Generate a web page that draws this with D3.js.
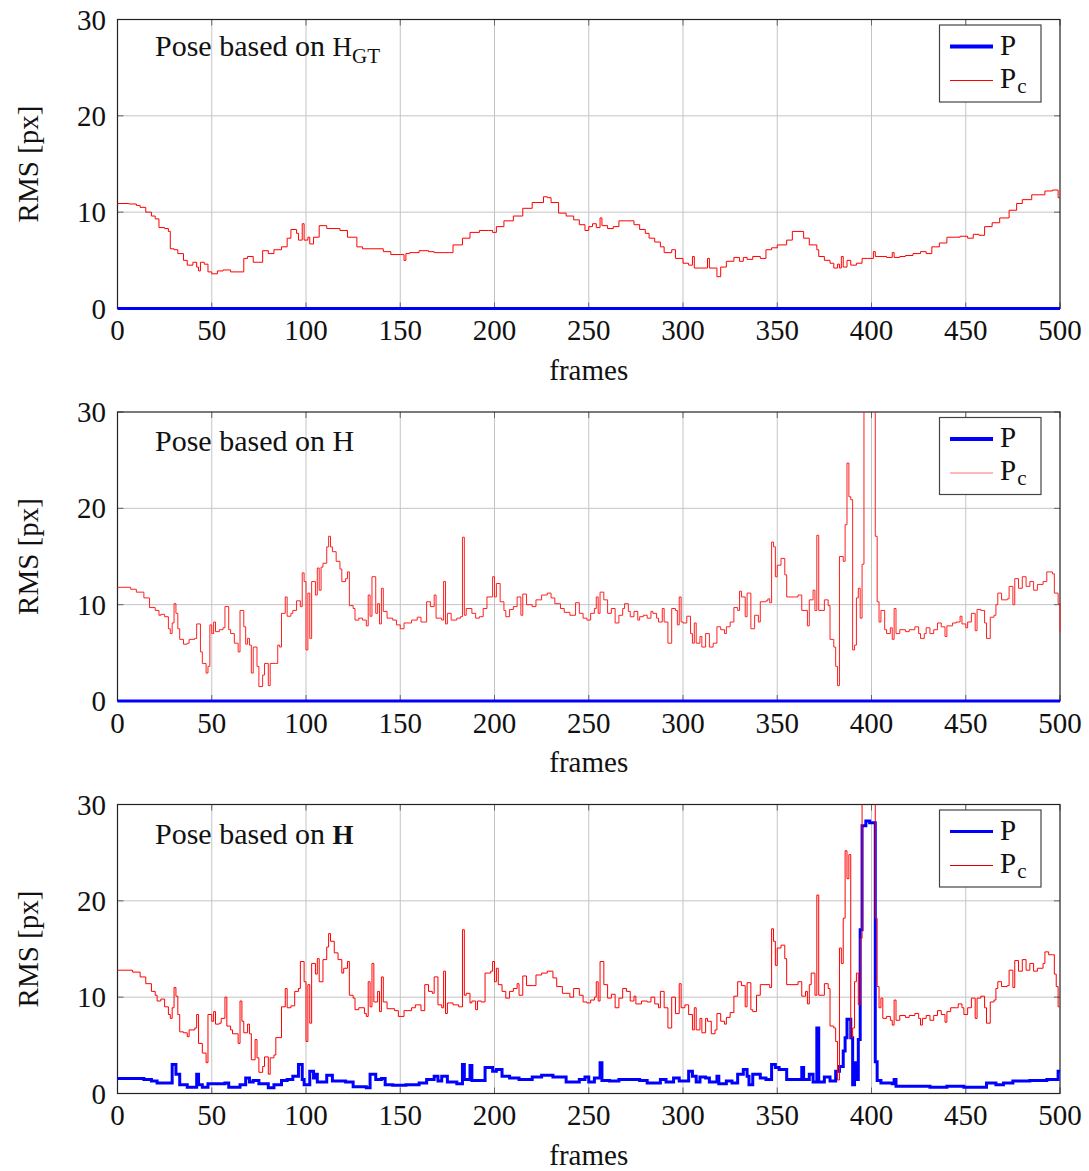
<!DOCTYPE html>
<html><head><meta charset="utf-8">
<script src="https://cdn.jsdelivr.net/npm/d3@7"></script>
<style>
html,body{margin:0;padding:0;background:#fff;}
svg{display:block;}
</style></head>
<body>
<script>
// ---------- DATA ----------
const frameTicks = [0,50,100,150,200,250,300,350,400,450,500];
const rmsTicks = [0,10,20,30];
const xLabel = "frames";
const yLabel = "RMS [px]";

// Panel 1: pose based on H_GT
const pGT = [[0,0],[500,0]];
const pcGT = [[0,10.9],[6,10.85],[10,10.7],[12,10.5],[15,10.0],[18,9.6],[20,9.3],[22,8.4],[25,8.3],[27,8.0],[28,6.2],[30,6.1],[32,5.7],[35,5.0],[37,4.5],[40,4.8],[42,4.3],[43,3.9],[44,4.8],[46,4.6],[48,3.8],[50,3.6],[53,3.9],[56,4.0],[60,3.8],[64,3.8],[67,5.2],[69,5.4],[72,4.8],[75,4.8],[77,6.0],[80,5.7],[83,6.1],[87,6.4],[90,7.3],[92,8.2],[95,7.8],[96,7.1],[98,8.8],[99,7.1],[101,7.4],[102,6.7],[104,7.4],[107,8.6],[111,8.3],[118,8.1],[122,7.4],[127,6.4],[130,6.2],[135,6.2],[141,5.9],[145,5.6],[150,5.6],[152,5.0],[153,5.7],[155,5.8],[160,6.0],[165,5.9],[168,5.8],[173,5.8],[176,5.8],[178,6.6],[183,7.3],[187,7.9],[192,8.1],[197,8.1],[199,7.9],[201,8.5],[205,9.1],[210,9.6],[215,10.4],[220,11.0],[226,11.6],[228,11.5],[230,11.0],[234,9.9],[238,9.6],[242,9.2],[245,8.7],[248,8.1],[250,8.5],[252,8.8],[254,8.4],[256,9.4],[257,8.6],[260,8.3],[263,8.5],[266,9.1],[270,9.1],[274,8.7],[277,8.2],[280,7.8],[282,7.3],[285,6.9],[288,6.4],[290,5.8],[294,6.1],[296,5.2],[300,4.7],[303,4.5],[305,5.4],[306,4.2],[310,4.2],[313,5.2],[314,4.2],[318,3.3],[320,4.3],[323,4.9],[327,5.3],[330,4.9],[332,5.3],[334,5.1],[337,5.4],[341,5.2],[344,6.1],[347,6.3],[350,6.6],[355,7.1],[358,8.0],[361,8.0],[364,7.3],[367,6.6],[371,6.1],[372,5.4],[375,5.0],[378,4.7],[380,4.2],[382,4.6],[383,4.2],[384,5.4],[385,4.3],[387,5.0],[389,4.5],[392,4.7],[395,5.2],[398,5.2],[401,5.9],[402,5.4],[408,5.3],[411,5.8],[412,5.3],[415,5.4],[418,5.5],[422,5.7],[426,5.9],[429,5.7],[432,6.4],[436,6.8],[440,7.4],[447,7.5],[451,7.3],[454,7.7],[457,7.6],[460,8.5],[464,8.9],[468,9.4],[473,10.2],[477,10.9],[480,11.3],[485,11.8],[492,12.2],[496,12.3],[499,11.5],[500,11.5]];

// Panel 2: pose based on H
const pH = [[0,0],[500,0]];
const pcH = [[0,11.8],[7,11.6],[10,11.3],[14,10.7],[17,9.7],[20,9.4],[22,8.9],[23,9.0],[25,8.75],[27,7.5],[28,7.0],[29,8.1],[30,10.1],[31,9.1],[32,7.5],[33,6.4],[35,5.9],[37,6.0],[38,6.4],[41,6.5],[42,8.0],[44,5.1],[45,3.9],[47,2.9],[48,3.6],[49,7.9],[50,7.0],[51,8.2],[52,7.2],[54,7.4],[56,7.6],[57,9.8],[59,7.4],[60,7.0],[62,6.0],[64,5.1],[65,9.4],[67,7.7],[68,5.9],[69,6.5],[70,5.8],[71,2.9],[72,5.6],[74,3.6],[75,1.5],[77,2.7],[78,3.9],[80,1.6],[81,3.9],[84,3.9],[85,5.8],[86,5.6],[87,9.1],[89,10.8],[90,8.8],[92,9.1],[93,9.4],[95,10.4],[97,9.8],[98,13.3],[99,12.4],[100,5.3],[101,11.2],[102,6.5],[103,12.4],[105,11.0],[106,13.8],[107,11.5],[108,13.9],[109,14.3],[111,16.0],[112,17.1],[113,16.0],[114,15.5],[116,14.5],[118,13.7],[119,12.4],[121,12.7],[122,13.4],[123,9.9],[125,9.6],[126,8.4],[128,8.6],[130,8.4],[132,7.8],[133,11.0],[134,8.8],[135,12.9],[137,9.1],[138,10.1],[139,8.0],[140,11.7],[141,9.3],[143,8.6],[146,8.4],[148,7.9],[150,7.5],[152,8.1],[156,8.4],[159,8.7],[161,8.2],[164,10.3],[166,9.8],[168,11.0],[169,8.6],[172,8.4],[173,12.4],[174,8.0],[175,9.1],[177,8.4],[180,8.6],[182,8.75],[183,17.0],[184,8.9],[185,9.6],[188,9.1],[190,8.6],[192,8.75],[194,9.6],[196,10.8],[199,12.9],[200,10.8],[201,12.2],[203,10.3],[205,9.4],[206,8.75],[208,9.5],[210,9.8],[212,10.8],[214,8.9],[215,11.1],[217,10.0],[220,9.8],[222,10.5],[225,11.0],[228,11.2],[230,10.7],[232,10.1],[235,9.6],[237,9.2],[240,8.9],[243,10.2],[245,9.1],[247,8.6],[249,8.4],[251,9.1],[253,9.6],[254,10.8],[255,9.1],[256,11.3],[258,10.5],[260,9.1],[262,9.6],[264,8.1],[266,8.9],[268,9.6],[269,10.1],[271,9.3],[272,8.75],[274,9.3],[276,8.4],[277,8.75],[279,8.9],[281,8.6],[283,9.3],[284,9.1],[286,8.6],[287,8.2],[289,9.6],[290,8.2],[292,6.0],[294,9.6],[296,9.4],[297,7.9],[298,10.8],[299,8.2],[300,8.1],[302,8.8],[304,7.0],[305,6.0],[306,8.1],[307,6.0],[309,6.7],[310,5.6],[312,7.0],[314,5.6],[316,6.0],[318,7.7],[320,7.4],[322,7.0],[323,7.7],[325,8.2],[327,9.7],[329,9.4],[330,11.4],[331,10.8],[333,8.75],[334,11.2],[336,7.5],[338,8.9],[340,8.2],[341,10.3],[344,10.4],[345,10.6],[346,10.2],[347,16.5],[348,16.0],[349,12.9],[350,14.1],[352,14.8],[354,13.1],[355,10.8],[359,10.8],[361,11.0],[363,9.4],[366,7.8],[367,10.5],[369,11.5],[370,9.4],[371,17.2],[372,9.4],[375,10.5],[377,9.9],[378,6.4],[380,5.6],[381,3.6],[382,1.6],[383,15.0],[385,14.5],[386,18.3],[387,24.7],[388,21.2],[389,20.9],[390,5.3],[391,5.8],[392,10.7],[393,11.7],[394,8.6],[395,14.2],[396,40],[402,17.1],[403,10.3],[404,8.2],[405,9.4],[407,7.4],[408,7.0],[410,7.6],[411,6.4],[412,9.6],[413,7.0],[415,7.4],[418,7.2],[420,7.4],[423,7.7],[425,7.0],[426,6.5],[428,7.0],[429,7.6],[431,7.0],[433,7.4],[435,8.1],[437,7.7],[439,6.7],[440,7.8],[443,8.1],[445,8.2],[447,8.8],[448,8.0],[450,7.6],[451,8.2],[453,9.1],[455,7.3],[456,9.5],[458,9.4],[460,8.1],[461,6.5],[463,8.7],[465,8.9],[466,10.0],[467,11.2],[469,10.5],[472,10.6],[473,11.9],[475,10.0],[476,12.7],[478,11.7],[480,12.9],[482,11.9],[484,12.4],[486,11.5],[488,12.1],[491,12.4],[493,13.4],[496,13.2],[497,11.2],[499,10.1],[500,7.2]];

// Panel 3: pose based on H (tt)
const pH2 = [[0,1.55],[14,1.45],[18,1.3],[21,1.1],[29,3.0],[31,2.0],[33,0.9],[37,0.65],[42,2.0],[43,0.9],[45,0.65],[48,1.0],[53,1.0],[57,1.1],[59,0.65],[65,0.9],[68,1.6],[70,1.2],[72,1.35],[75,1.0],[80,0.6],[83,0.9],[87,1.35],[90,1.45],[93,1.8],[96,3.0],[98,1.45],[99,0.9],[102,2.3],[104,1.6],[105,2.0],[106,1.2],[111,1.9],[114,1.3],[121,1.2],[125,0.7],[132,0.6],[134,2.0],[137,1.45],[140,1.55],[142,0.9],[146,0.85],[153,0.9],[160,1.1],[164,1.45],[168,1.8],[170,1.3],[172,1.8],[175,1.2],[180,1.0],[183,3.0],[184,1.45],[187,2.9],[188,1.35],[192,1.35],[195,2.7],[199,2.3],[201,2.5],[204,1.8],[208,1.6],[213,1.45],[220,1.7],[225,1.9],[231,1.7],[238,1.2],[245,1.45],[248,1.7],[250,1.2],[253,1.6],[256,3.2],[257,1.35],[261,1.3],[266,1.45],[272,1.45],[277,1.35],[281,1.1],[288,1.45],[291,1.2],[295,1.6],[298,1.3],[303,2.3],[305,1.8],[307,1.2],[309,1.7],[312,1.6],[314,1.2],[318,1.8],[319,1.0],[323,1.3],[326,1.1],[329,2.0],[332,2.5],[334,1.8],[335,0.9],[337,2.0],[341,1.6],[344,1.45],[347,3.0],[349,2.7],[351,2.5],[355,1.45],[362,1.45],[363,2.7],[364,1.45],[367,2.0],[369,1.2],[371,6.8],[372,1.2],[375,1.7],[378,1.3],[381,2.3],[383,2.8],[385,4.4],[386,5.8],[387,7.7],[389,5.8],[390,0.9],[391,3.2],[392,1.45],[393,5.6],[394,17.0],[395,27.8],[397,28.3],[399,28.1],[401,28.1],[402,3.3],[403,1.35],[405,1.1],[411,1.0],[412,1.45],[413,0.75],[422,0.75],[431,0.65],[440,0.75],[449,0.65],[456,0.65],[461,1.1],[466,0.9],[470,1.1],[475,1.3],[484,1.35],[493,1.45],[499,2.3],[500,2.3]];
const pcH2 = [[0,12.8],[8,12.6],[12,12.1],[15,11.4],[18,10.6],[20,10.2],[21,9.6],[23,9.8],[25,9.0],[27,8.2],[28,7.8],[29,8.9],[30,11.0],[31,10.1],[32,8.2],[33,6.4],[35,6.3],[37,5.9],[38,6.6],[41,6.8],[42,8.2],[43,5.2],[45,4.2],[47,3.2],[48,8.2],[50,7.5],[51,8.5],[52,7.2],[54,7.3],[55,7.8],[57,10.0],[58,7.0],[60,6.6],[61,6.2],[64,5.2],[65,9.6],[66,7.5],[67,6.3],[69,7.2],[70,6.2],[71,3.5],[73,5.6],[74,3.7],[75,2.2],[77,2.8],[78,3.8],[80,2.0],[81,3.7],[83,4.0],[84,5.8],[87,9.0],[89,10.9],[90,8.9],[92,9.1],[94,10.6],[96,10.9],[97,13.7],[99,11.6],[100,5.4],[101,11.3],[102,7.3],[103,13.5],[105,12.4],[106,14.0],[107,11.6],[109,13.9],[111,15.2],[112,16.6],[113,15.8],[115,14.6],[117,13.9],[119,12.5],[120,13.0],[122,13.7],[123,10.2],[125,9.9],[126,8.7],[128,8.9],[131,8.3],[132,8.0],[133,11.6],[134,9.0],[135,13.5],[136,9.5],[138,10.6],[139,8.5],[140,12.1],[141,9.5],[143,8.8],[147,8.6],[149,8.0],[152,8.6],[156,8.9],[158,9.2],[161,8.6],[163,11.3],[165,10.6],[167,10.4],[168,12.1],[170,9.2],[172,8.9],[173,12.7],[174,8.3],[175,9.4],[178,9.2],[181,9.0],[183,17.0],[184,10.2],[185,10.4],[187,9.4],[188,9.6],[190,8.7],[191,9.6],[193,9.5],[195,12.5],[198,12.7],[199,13.7],[200,11.6],[201,13.0],[202,11.3],[204,10.6],[206,9.9],[208,10.6],[210,10.9],[212,11.4],[213,10.2],[215,12.2],[217,11.2],[220,11.2],[222,12.3],[225,12.5],[228,12.7],[231,12.0],[233,11.1],[236,10.4],[240,10.0],[242,10.9],[245,10.2],[247,9.5],[249,9.4],[251,9.7],[253,10.0],[254,11.6],[255,9.6],[256,13.7],[258,11.3],[260,9.9],[262,10.3],[264,8.9],[266,9.9],[268,10.9],[270,10.6],[272,9.6],[274,10.1],[275,9.3],[278,9.6],[281,9.5],[283,10.0],[285,9.3],[287,8.9],[288,10.6],[290,8.9],[292,6.8],[294,10.0],[296,8.3],[298,11.4],[299,8.9],[301,9.2],[303,8.2],[305,6.6],[306,8.9],[307,6.6],[309,7.8],[310,6.3],[312,7.8],[313,7.5],[315,6.2],[317,6.6],[318,8.3],[320,7.5],[322,7.2],[323,7.9],[325,8.4],[327,10.1],[329,11.6],[331,11.2],[333,9.0],[334,11.5],[336,8.7],[337,8.5],[339,10.2],[341,11.3],[346,11.0],[347,17.1],[348,15.8],[349,13.3],[350,15.1],[352,15.4],[354,14.0],[355,11.3],[361,11.6],[363,10.1],[365,10.6],[366,9.3],[367,11.3],[368,12.5],[370,10.2],[371,20.6],[372,10.2],[375,11.4],[377,10.9],[378,7.0],[380,6.8],[381,5.4],[382,1.4],[383,15.1],[384,13.5],[385,18.2],[386,25.2],[387,22.3],[388,24.8],[389,5.8],[390,6.8],[391,11.6],[392,12.5],[393,9.2],[394,16.1],[395,40],[402,18.2],[403,11.1],[404,8.9],[405,9.9],[406,7.8],[408,8.0],[410,7.6],[411,7.1],[412,9.7],[413,7.6],[415,8.1],[418,7.9],[420,8.1],[423,8.3],[425,7.8],[426,7.1],[427,7.8],[429,8.1],[431,7.6],[433,8.1],[435,8.6],[437,8.2],[439,7.4],[440,8.5],[442,8.9],[445,8.9],[446,9.3],[448,8.9],[449,8.2],[451,8.9],[453,9.9],[455,7.8],[456,9.9],[458,10.1],[460,8.9],[461,7.3],[463,9.5],[465,9.7],[466,10.9],[467,11.6],[469,11.1],[472,11.2],[473,12.8],[475,11.0],[476,13.8],[478,12.7],[480,13.9],[482,12.8],[484,13.5],[486,12.7],[488,13.0],[491,13.5],[492,14.7],[494,14.4],[496,14.4],[497,12.4],[498,11.1],[499,9.0],[500,9.0]];

const panels = [
  {title: [["Pose based on ","serif"],["H","tt"],["GT","sub"]], p: pGT, pc: pcGT, pWidth: 3.2, legendPWidth: 4.2, pcColor: "#ff0000", legendPcColor: "#ff0000", titleDy: 36},
  {title: [["Pose based on H","serif"]], p: pH, pc: pcH, pWidth: 3.2, legendPWidth: 4.2, pcColor: "#ff2020", legendPcColor: "#ff6f6f", titleDy: 39},
  {title: [["Pose based on ","serif"],["H","ttb"]], p: pH2, pc: pcH2, pWidth: 3, legendPWidth: 3, pcColor: "#ff0000", legendPcColor: "#e00000", titleDy: 39}
];

// ---------- LAYOUT ----------
const W = 1089, H = 1171;
const left = 117.5, right = 1060;
const tops = [19.5, 412, 804.5];
const ph = 289;
const serif = "'Liberation Serif','Times New Roman',serif";

const svg = d3.select("body").append("svg").attr("width", W).attr("height", H);
const x = d3.scaleLinear().domain([0,500]).range([left, right]);

panels.forEach((P, i) => {
  const top = tops[i], bottom = top + ph;
  const y = d3.scaleLinear().domain([0,30]).range([bottom, top]);
  const g = svg.append("g");

  // grid
  g.append("g").selectAll("line").data(frameTicks.slice(1,-1)).join("line")
    .attr("x1", d=>x(d)).attr("x2", d=>x(d)).attr("y1", top).attr("y2", bottom)
    .attr("stroke", "#c4c4c4").attr("stroke-width", 1);
  g.append("g").selectAll("line").data(rmsTicks.slice(1,-1)).join("line")
    .attr("x1", left).attr("x2", right).attr("y1", d=>y(d)).attr("y2", d=>y(d))
    .attr("stroke", "#c4c4c4").attr("stroke-width", 1);

  // inner ticks
  const tk = 6;
  g.append("g").selectAll("line").data(frameTicks).join("line")
    .attr("x1", d=>x(d)).attr("x2", d=>x(d)).attr("y1", bottom).attr("y2", bottom - tk)
    .attr("stroke", "#666");
  g.append("g").selectAll("line").data(frameTicks).join("line")
    .attr("x1", d=>x(d)).attr("x2", d=>x(d)).attr("y1", top).attr("y2", top + tk)
    .attr("stroke", "#666");
  g.append("g").selectAll("line").data(rmsTicks).join("line")
    .attr("x1", left).attr("x2", left + tk).attr("y1", d=>y(d)).attr("y2", d=>y(d))
    .attr("stroke", "#666");
  g.append("g").selectAll("line").data(rmsTicks).join("line")
    .attr("x1", right).attr("x2", right - tk).attr("y1", d=>y(d)).attr("y2", d=>y(d))
    .attr("stroke", "#666");

  // frame (drawn under the data, as in the reference)
  g.append("rect").attr("x", left).attr("y", top).attr("width", right-left).attr("height", ph)
    .attr("fill","none").attr("stroke","#222").attr("stroke-width",1.2);

  // clip
  const cid = "clip" + i;
  svg.append("clipPath").attr("id", cid).append("rect")
    .attr("x", left - 2).attr("y", top).attr("width", right - left + 4).attr("height", ph + 6);

  const line = d3.line().x(d=>x(d[0])).y(d=>y(d[1])).curve(d3.curveStepAfter);
  g.append("path").datum(P.p).attr("d", line).attr("fill","none")
    .attr("stroke","#0000ff").attr("stroke-width", P.pWidth).attr("clip-path", `url(#${cid})`);
  g.append("path").datum(P.pc).attr("d", line).attr("fill","none")
    .attr("stroke", P.pcColor).attr("stroke-width", 1).attr("clip-path", `url(#${cid})`);

  // tick labels
  g.append("g").selectAll("text").data(frameTicks).join("text")
    .attr("x", d=>x(d)).attr("y", bottom + 31.5).attr("text-anchor","middle")
    .attr("font-family", serif).attr("font-size", 29).attr("fill","#111").text(d=>d);
  g.append("g").selectAll("text").data(rmsTicks).join("text")
    .attr("x", 106).attr("y", d=>y(d) + 10).attr("text-anchor","end")
    .attr("font-family", serif).attr("font-size", 29).attr("fill","#111").text(d=>d);

  // axis labels
  g.append("text").attr("x", (left+right)/2).attr("y", bottom + 71)
    .attr("text-anchor","middle").attr("font-family", serif).attr("font-size", 29)
    .attr("fill","#111").text(xLabel);
  g.append("text").attr("transform", `translate(38,${top + ph/2}) rotate(-90)`)
    .attr("text-anchor","middle").attr("font-family", serif).attr("font-size", 29)
    .attr("fill","#111").text(yLabel);

  // title
  const t = g.append("text").attr("x", 155).attr("y", top + P.titleDy)
    .attr("font-family", serif).attr("font-size", 30).attr("fill","#111");
  P.title.forEach(([s, kind]) => {
    const ts = t.append("tspan").text(s);
    if (kind === "tt") ts.attr("font-size", 27);
    if (kind === "ttb") ts.attr("font-size", 27).attr("font-weight", "bold");
    if (kind === "sub") ts.attr("font-size", 21).attr("dy", 7);
  });

  // legend
  const lg = g.append("g");
  lg.append("rect").attr("x", 939.5).attr("y", top + 5.5).attr("width", 101.5).attr("height", 77)
    .attr("fill","#fff").attr("stroke","#444").attr("stroke-width",1.2);
  lg.append("line").attr("x1", 950).attr("x2", 993).attr("y1", top+27).attr("y2", top+27)
    .attr("stroke","#0000ff").attr("stroke-width", P.legendPWidth);
  lg.append("line").attr("x1", 950).attr("x2", 993).attr("y1", top+61).attr("y2", top+61)
    .attr("stroke", P.legendPcColor).attr("stroke-width", 1);
  lg.append("text").attr("x", 1000).attr("y", top+35).attr("font-family", serif)
    .attr("font-size", 29).attr("fill","#111").text("P");
  const lt = lg.append("text").attr("x", 1000).attr("y", top+68).attr("font-family", serif)
    .attr("font-size", 29).attr("fill","#111");
  lt.append("tspan").text("P");
  lt.append("tspan").attr("font-size", 21).attr("dy", 5).attr("dx", 1).text("c");
});
</script>
</body></html>
